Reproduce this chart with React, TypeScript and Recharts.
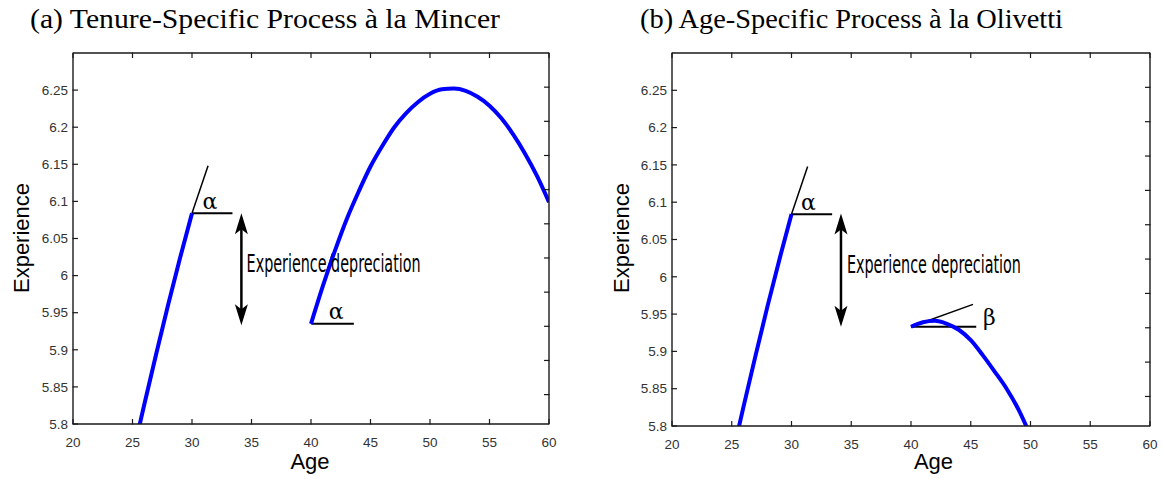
import React from 'react';
import { LineChart, Line, XAxis, YAxis, ReferenceLine, ReferenceDot } from 'recharts';

// ---- axis ticks ----
const ageTicks = [20, 25, 30, 35, 40, 45, 50, 55, 60];
const expTicks = [5.8, 5.85, 5.9, 5.95, 6, 6.05, 6.1, 6.15, 6.2, 6.25];
const ageDomain = [20, 60];
const expDomain = [5.8, 6.3];

// ---- first job (both panels) ----
const earlyAges = [25, 26, 27, 28, 29, 30];
const earlyExp = [5.757, 5.827, 5.895, 5.961, 6.024, 6.084];

// ---- panel (a): tenure-specific (Mincer) after the break ----
const mincerAges = [40, 41, 42, 43, 44, 45, 46, 47, 48, 49, 50, 51, 52, 53, 54, 55, 56, 57, 58, 59, 60];
const mincerExp = [5.935, 5.986, 6.033, 6.076, 6.113, 6.147, 6.175, 6.2, 6.219, 6.234, 6.245, 6.251, 6.252, 6.249, 6.241, 6.229, 6.212, 6.19, 6.164, 6.134, 6.099];

// ---- panel (b): age-specific (Olivetti) after the break ----
const olivettiAges = [40, 41, 42, 43, 44, 45, 46, 47, 48, 49, 50];
const olivettiExp = [5.933, 5.939, 5.941, 5.937, 5.929, 5.915, 5.895, 5.873, 5.85, 5.822, 5.787];

// ---- annotation anchors (data coordinates) ----
const tangentA1 = [[30, 6.084], [31.35, 6.148]];
const flatA1 = [[30, 6.084], [33.4, 6.084]];
const alphaA1 = [31.5, 6.1];
const arrowA = [[34.15, 6.084], [34.15, 5.933]];
const textA = [34.59, 6.0044];
const tangentA2 = [[40.03, 5.935], [41.8, 6.03]];
const flatA2 = [[40.03, 5.935], [43.6, 5.935]];
const alphaA2 = [42.12, 5.952];

const tangentB1 = [[30, 6.084], [31.35, 6.148]];
const flatB1 = [[30, 6.084], [33.4, 6.084]];
const alphaB1 = [31.42, 6.1];
const arrowB = [[34.14, 6.085], [34.14, 5.933]];
const textB = [34.64, 6.0053];
const tangentB2 = [[40, 5.933], [45.19, 5.963]];
const flatB2 = [[40, 5.933], [45.46, 5.933]];
const betaB = [46.55, 5.946];

const depreciationLabel = 'Experience depreciation';

const toRows = (xs: number[], ys: number[]) => xs.map((a, i) => ({ age: a, v: ys[i] }));
const fmt = (v: number) => String(Math.round(v * 100) / 100);

const TICK_FAMILY = 'Liberation Sans, Arial, sans-serif';
const TICK_SIZE = 13.5;
const TICK_FILL = '#333';
const TL = 5; // inward tick length
const AX = '#1a1a1a';

type Seg = number[][];

// custom inward ticks (label + tick line drawn together)
const BottomTick = (p: any) => {
  const M = 13;
  return (
    <g>
      <line x1={p.x} y1={p.y - M + 0.5} x2={p.x} y2={p.y - M - TL} stroke={AX} strokeWidth={1.2} />
      <text x={p.x} y={p.y} dy="0.71em" textAnchor="middle" fontFamily={TICK_FAMILY} fontSize={TICK_SIZE} fill={TICK_FILL}>
        {fmt(p.payload.value)}
      </text>
    </g>
  );
};
const LeftTick = (p: any) => {
  const M = 5;
  return (
    <g>
      <line x1={p.x + M - 0.5} y1={p.y} x2={p.x + M + TL} y2={p.y} stroke={AX} strokeWidth={1.2} />
      <text x={p.x} y={p.y} dy="0.355em" textAnchor="end" fontFamily={TICK_FAMILY} fontSize={TICK_SIZE} fill={TICK_FILL}>
        {fmt(p.payload.value)}
      </text>
    </g>
  );
};
const TopTick = (p: any) => {
  const M = 2;
  return <line x1={p.x} y1={p.y + M - 0.5} x2={p.x} y2={p.y + M + TL} stroke={AX} strokeWidth={1.2} />;
};
const RightTick = (p: any) => {
  const M = 2;
  return <line x1={p.x - M + 0.5} y1={p.y} x2={p.x - M - TL} y2={p.y} stroke={AX} strokeWidth={1.2} />;
};

const ArrowShape = (p: any) => {
  const x = p.x1;
  const top = Math.min(p.y1, p.y2);
  const bot = Math.max(p.y1, p.y2);
  const hl = 21, hw = 6.5;
  return (
    <g>
      <line x1={x} y1={top + 12} x2={x} y2={bot - 12} stroke="#000" strokeWidth={2.5} />
      <polygon points={`${x},${top} ${x - hw},${top + hl} ${x},${top + hl - 5} ${x + hw},${top + hl}`} fill="#000" />
      <polygon points={`${x},${bot} ${x - hw},${bot - hl} ${x},${bot - hl + 5} ${x + hw},${bot - hl}`} fill="#000" />
    </g>
  );
};

const greek = (ch: string) => (p: any) => (
  <text x={p.cx} y={p.cy} textAnchor="middle" dominantBaseline="central" fontFamily="DejaVu Serif, serif" fontSize={22} fill="#000">
    {ch}
  </text>
);

const depText = (p: any) => (
  <text x={p.cx} y={p.cy} textAnchor="start" fontFamily="'Liberation Sans Narrow', 'DejaVu Sans Condensed', sans-serif" fontSize={25} fill="#000" textLength={174} lengthAdjust="spacingAndGlyphs">
    {depreciationLabel}
  </text>
);

interface PanelProps {
  left: number;
  width: number;
  plotLeft: number;
  plotRight: number;
  plotBottom: number;
  curves: { age: number; v: number }[][];
  segments: { seg: Seg; w: number }[];
  arrow: Seg;
  labels: { at: number[]; shape: any }[];
  yLabelX: number;
  xLabelX: number;
}

const H = 479;
const PLOT_TOP = 53;

const Panel = ({ left, width, plotLeft, plotRight, plotBottom, curves, segments, arrow, labels, yLabelX, xLabelX }: PanelProps) => {
  return (
    <div style={{ position: 'absolute', left, top: 0, width, height: H }}>
      <LineChart width={width} height={H} margin={{ top: PLOT_TOP - 1, right: width - plotRight - 1, left: 0, bottom: 0 }}>
        <XAxis xAxisId="x" dataKey="age" type="number" domain={ageDomain} ticks={ageTicks} interval={0} allowDataOverflow
          height={H - plotBottom} tickSize={0} tickMargin={13} tick={<BottomTick />} tickLine={false}
          axisLine={{ stroke: AX, strokeWidth: 1.4 }}
          label={{ content: () => (
            <text x={xLabelX} y={469} textAnchor="middle" fontFamily="Liberation Sans, Arial, sans-serif" fontSize={22} fill="#000">Age</text>
          ) }} />
        <XAxis xAxisId="xt" orientation="top" dataKey="age" type="number" domain={ageDomain} ticks={ageTicks} interval={0}
          height={1} tickSize={0} tickMargin={2} tick={<TopTick />} tickLine={false} axisLine={{ stroke: AX, strokeWidth: 1.4 }} />
        <YAxis yAxisId="y" type="number" domain={expDomain} ticks={expTicks} interval={0} allowDataOverflow
          width={plotLeft} tickSize={0} tickMargin={5} tick={<LeftTick />} tickLine={false} axisLine={{ stroke: AX, strokeWidth: 1.4 }}
          label={{ content: () => (
            <text x={yLabelX} y={238} transform={`rotate(-90 ${yLabelX} ${238})`} textAnchor="middle" dominantBaseline="central"
              fontFamily="Liberation Sans, Arial, sans-serif" fontSize={22} fill="#000">Experience</text>
          ) }} />
        <YAxis yAxisId="yr" orientation="right" type="number" domain={expDomain} ticks={expTicks} interval={0}
          width={1} tickSize={0} tickMargin={2} tick={<RightTick />} tickLine={false} axisLine={{ stroke: AX, strokeWidth: 1.4 }} />
        <Line xAxisId="xt" yAxisId="yr" data={curves[0]} dataKey="v" stroke="none" dot={false} activeDot={false}
          isAnimationActive={false} legendType="none" />
        {segments.map((s, i) => (
          <ReferenceLine key={'s' + i} xAxisId="x" yAxisId="y" ifOverflow="visible"
            segment={[{ x: s.seg[0][0], y: s.seg[0][1] }, { x: s.seg[1][0], y: s.seg[1][1] }]}
            stroke="#000" strokeWidth={s.w} />
        ))}
        {curves.map((c, i) => (
          <Line key={'c' + i} xAxisId="x" yAxisId="y" data={c} dataKey="v" type="monotone" stroke="#0000ff" strokeWidth={4}
            dot={false} activeDot={false} isAnimationActive={false} />
        ))}
        <ReferenceLine xAxisId="x" yAxisId="y" ifOverflow="visible"
          segment={[{ x: arrow[0][0], y: arrow[0][1] }, { x: arrow[1][0], y: arrow[1][1] }]} shape={ArrowShape} />
        {labels.map((l, i) => (
          <ReferenceDot key={'l' + i} xAxisId="x" yAxisId="y" x={l.at[0]} y={l.at[1]} r={0} ifOverflow="visible" shape={l.shape} />
        ))}
      </LineChart>
    </div>
  );
};

export default function App() {
  const early = toRows(earlyAges, earlyExp);
  return (
    <div style={{ position: 'absolute', left: 0, top: 0, width: 1162, height: 479, background: '#fff' }}>
      <svg width={1162} height={60} style={{ position: 'absolute', left: 0, top: 0 }}>
        <text x={265} y={28} textAnchor="middle" fontFamily="'Liberation Serif', 'DejaVu Serif', serif" fontSize={27} fill="#000"
          textLength={470} lengthAdjust="spacingAndGlyphs">(a) Tenure-Specific Process à la Mincer</text>
        <text x={851.5} y={28} textAnchor="middle" fontFamily="'Liberation Serif', 'DejaVu Serif', serif" fontSize={27} fill="#000"
          textLength={423} lengthAdjust="spacingAndGlyphs">(b) Age-Specific Process à la Olivetti</text>
      </svg>
      <Panel left={0} width={580} plotLeft={73} plotRight={549} plotBottom={424}
        curves={[early, toRows(mincerAges, mincerExp)]}
        segments={[{ seg: tangentA2, w: 1.5 }, { seg: tangentA1, w: 1.5 }, { seg: flatA1, w: 2 }, { seg: flatA2, w: 2 }]}
        arrow={arrowA}
        labels={[{ at: alphaA1, shape: greek('α') }, { at: alphaA2, shape: greek('α') }, { at: textA, shape: depText }]}
        yLabelX={21} xLabelX={310} />
      <Panel left={600} width={562} plotLeft={72} plotRight={550} plotBottom={426}
        curves={[early, toRows(olivettiAges, olivettiExp)]}
        segments={[{ seg: tangentB1, w: 1.5 }, { seg: flatB1, w: 2 }, { seg: tangentB2, w: 1.5 }, { seg: flatB2, w: 2 }]}
        arrow={arrowB}
        labels={[{ at: alphaB1, shape: greek('α') }, { at: betaB, shape: greek('β') }, { at: textB, shape: depText }]}
        yLabelX={21} xLabelX={333.5} />
    </div>
  );
}
